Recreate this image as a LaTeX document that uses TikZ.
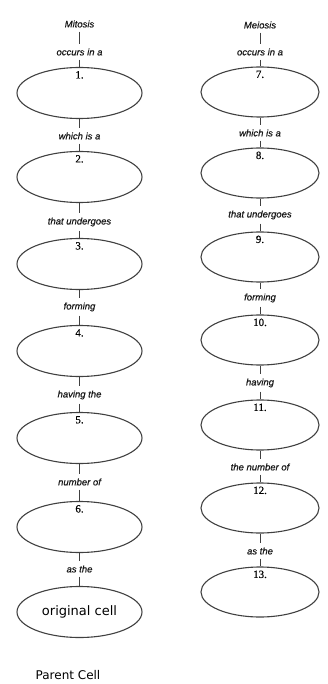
\documentclass[tikz,border=0pt]{standalone}
\usepackage{fontspec}
\setmainfont{Liberation Sans}
\newfontfamily\labfont[FakeBold=0.6]{Liberation Sans}
\newfontfamily\numfont[FakeBold=0.4]{Liberation Serif}
\newfontfamily\cellfont{DejaVu Sans}
\usetikzlibrary{shapes.geometric}
\begin{document}
\begin{tikzpicture}[x=1pt,y=-1pt,
  cellL/.style={ellipse,draw=black!75,line width=1.1pt,minimum width=125pt,minimum height=51pt,inner sep=0pt},
  cellR/.style={ellipse,draw=black!75,line width=1.1pt,minimum width=118pt,minimum height=50pt,inner sep=0pt},
  lab/.style={font=\labfont\fontsize{9.5}{10}\selectfont\itshape,inner xsep=1pt,inner ysep=4pt,text=black!90},
  num/.style={font=\numfont\fontsize{11}{12}\selectfont,anchor=north,inner sep=0pt,yshift=-4pt},
  tick/.style={draw=black!75,line width=0.9pt}]
\useasboundingbox (0,0) rectangle (327,684);
% left column
\node[lab] (mit) at (79.5,24) {Mitosis};
\node[lab] (l1) at (79.5,52) {occurs in a};
\node[cellL] (e1) at (79.5,93) {};
\node[lab] (l2) at (79.5,136) {which is a};
\node[cellL] (e2) at (79.5,177) {};
\node[lab] (l3) at (79.5,222) {that undergoes};
\node[cellL] (e3) at (79.5,264) {};
\node[lab] (l4) at (79.5,307) {forming};
\node[cellL] (e4) at (79.5,351) {};
\node[lab] (l5) at (79.5,395) {having the};
\node[cellL] (e5) at (79.5,438) {};
\node[lab] (l6) at (79.5,482) {number of};
\node[cellL] (e6) at (79.5,527) {};
\node[lab] (l7) at (79.5,569) {as the};
\node[cellL,font=\cellfont\fontsize{13}{14}\selectfont] (eo) at (79.5,612) {original cell};
\node[font=\cellfont\fontsize{12}{13}\selectfont,inner sep=0pt] (pc) at (68,675) {Parent Cell};
\foreach \i in {1,...,6} {\node[num] (n\i) at (e\i.north) {\i.};}
\draw[tick] (mit) -- (l1);
\draw[tick] (l1) -- (e1);
\draw[tick] (e1) -- (l2); \draw[tick] (l2) -- (e2);
\draw[tick] (e2) -- (l3); \draw[tick] (l3) -- (e3);
\draw[tick] (e3) -- (l4); \draw[tick] (l4) -- (e4);
\draw[tick] (e4) -- (l5); \draw[tick] (l5) -- (e5);
\draw[tick] (e5) -- (l6); \draw[tick] (l6) -- (e6);
\draw[tick] (e6) -- (l7); \draw[tick] (l7) -- (eo);
% right column
\node[lab] (mei) at (260,25) {Meiosis};
\node[lab] (r1) at (260,52) {occurs in a};
\node[cellR] (e7) at (260,92) {};
\node[lab] (r2) at (260,133) {which is a};
\node[cellR] (e8) at (260,173) {};
\node[lab] (r3) at (260,215) {that undergoes};
\node[cellR] (e9) at (260,257) {};
\node[lab] (r4) at (260,298) {forming};
\node[cellR] (e10) at (260,340) {};
\node[lab] (r5) at (260,383) {having};
\node[cellR] (e11) at (260,425) {};
\node[lab] (r6) at (260,467) {the number of};
\node[cellR] (e12) at (260,508) {};
\node[lab] (r7) at (260,551) {as the};
\node[cellR] (e13) at (260,592) {};
\foreach \i in {7,...,13} {\node[num] (n\i) at (e\i.north) {\i.};}
\draw[tick] (mei) -- (r1);
\draw[tick] (r1) -- (e7);
\draw[tick] (e7) -- (r2); \draw[tick] (r2) -- (e8);
\draw[tick] (e8) -- (r3); \draw[tick] (r3) -- (e9);
\draw[tick] (e9) -- (r4); \draw[tick] (r4) -- (e10);
\draw[tick] (e10) -- (r5); \draw[tick] (r5) -- (e11);
\draw[tick] (e11) -- (r6); \draw[tick] (r6) -- (e12);
\draw[tick] (e12) -- (r7); \draw[tick] (r7) -- (e13);
\end{tikzpicture}
\end{document}
